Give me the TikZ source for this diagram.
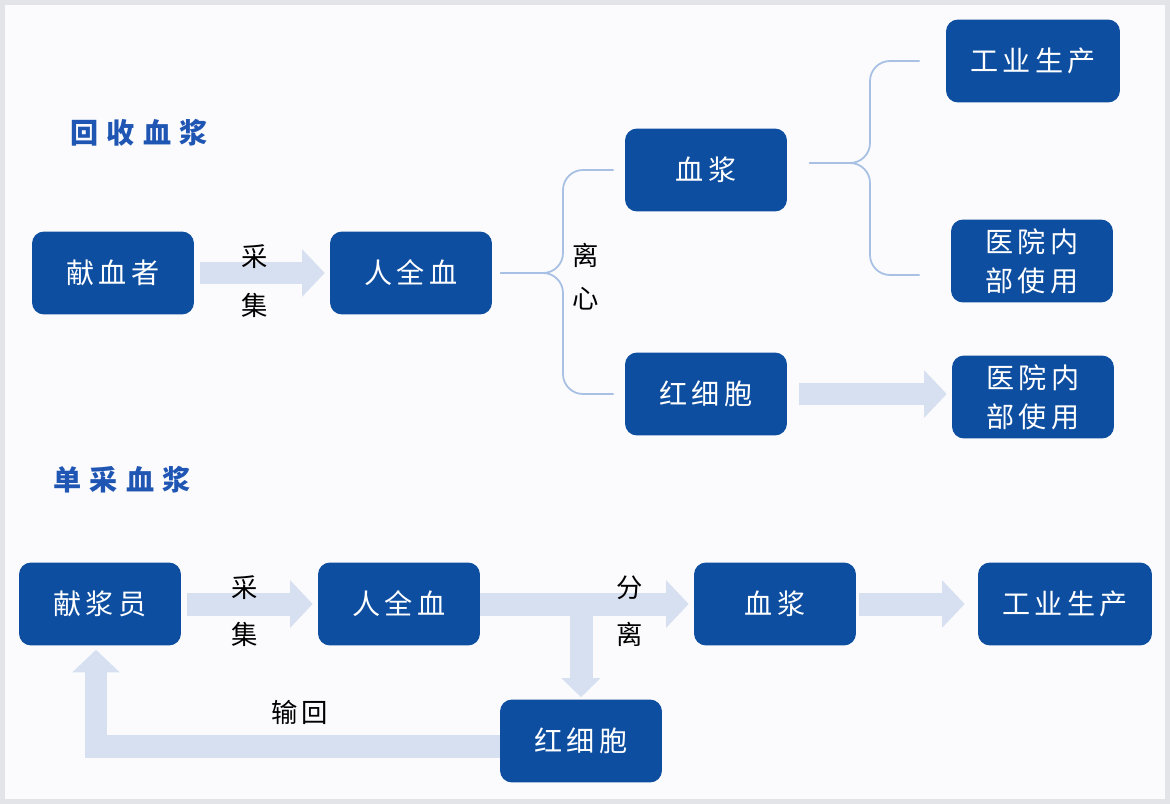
\documentclass[tikz,border=0pt]{standalone}
\usepackage{fontspec}
\newfontfamily\boxfont[LetterSpace=15]{Noto Sans CJK SC}
\newfontfamily\headfont[LetterSpace=30]{Noto Sans CJK SC}
\usetikzlibrary{arrows.meta, calc}

\begin{document}
\begin{tikzpicture}[x=0.02cm, y=-0.02cm]
    % Define colours
    \definecolor{boxColour}{HTML}{0D4EA0}
    \definecolor{arrowColour}{HTML}{D6E0F1}
    \definecolor{braceColour}{HTML}{A8C0E4}
    \definecolor{titleColour}{HTML}{1F55B3}
    \definecolor{pageColour}{HTML}{FBFBFD}
    \definecolor{edgeColour}{HTML}{E2E4E8}

    % Define styles
    \tikzset{
        box/.style={rectangle, rounded corners=0.24cm, fill=boxColour, text=white,
            minimum width=3.24cm, minimum height=1.66cm, align=center,
            font=\boxfont\fontsize{16}{22}\selectfont},
        widebox/.style={box, minimum width=3.48cm},
        fat/.style={draw=arrowColour, line width=0.46cm, line join=miter,
            -{Triangle[length=0.45cm, width=0.95cm, line width=0pt]},
            shorten <=0.12cm, shorten >=0.1cm},
        brace/.style={draw=braceColour, line width=1pt, rounded corners=0.4cm,
            shorten <=0.16cm, shorten >=0.22cm},
        title/.style={text=titleColour, font=\headfont\bfseries\fontsize{16}{20}\selectfont},
        tag/.style={text=black, font=\boxfont\fontsize{15}{20}\selectfont}
    }

    % Page
    \useasboundingbox (0,0) rectangle (1170,804);
    \fill[pageColour] (0,0) rectangle (1170,804);
    \draw[edgeColour, line width=0.2cm] (0,0) rectangle (1170,804);

    % Section titles
    \node[title] (titleA) at (139,133) {回收血浆};
    \node[title] (titleB) at (122,480) {单采血浆};

    % Upper flow: recovered plasma
    \node[box] (donorA) at (113,273) {献血者};
    \node[box] (bloodA) at (411,273) {人全血};
    \node[box] (plasmaA) at (706,170) {血浆};
    \node[box] (cellsA) at (706,394) {红细胞};
    \node[widebox] (industryA) at (1033,61) {工业生产};
    \node[box] (hospitalA) at (1032,261) {医院内\\部使用};
    \node[box] (hospitalB) at (1033,397) {医院内\\部使用};

    % Fork points of the braces
    \coordinate (forkA) at (563,273);
    \coordinate (forkB) at (870,163);

    % Upper connectors
    \draw[fat] (donorA) -- (bloodA);
    \draw[brace] (bloodA.east) -- (forkA) |- (plasmaA.west);
    \draw[brace] (bloodA.east) -- (forkA) |- (cellsA.west);
    \draw[brace, shorten <=0.44cm, shorten >=0.52cm] ($(plasmaA.east)+(0,-7)$) -- (forkB) |- (industryA.west);
    \draw[brace, shorten <=0.44cm, shorten >=0.62cm] ($(plasmaA.east)+(0,-7)$) -- (forkB) |- ($(hospitalA.west)+(0,14)$);
    \draw[fat, shorten <=0.24cm] (cellsA.east) -- (cellsA.east -| hospitalB.west);

    % Upper labels
    \node[tag] (collectA1) at (255,257) {采};
    \node[tag] (collectA2) at (255,305) {集};
    \node[tag] (spinA1) at (586,255) {离};
    \node[tag] (spinA2) at (586,299) {心};

    % Lower flow: single plasma collection
    \node[box] (donorB) at (100,604) {献浆员};
    \node[box] (bloodB) at (399,604) {人全血};
    \node[box] (plasmaB) at (775,604) {血浆};
    \node[widebox] (industryB) at (1065,604) {工业生产};
    \node[box] (cellsB) at (581,741) {红细胞};

    \coordinate (split) at (cellsB.north |- bloodB.east);

    % Lower connectors
    \draw[fat] (donorB) -- (bloodB);
    \draw[fat, shorten <=0cm] (bloodB) -- (plasmaB);
    \draw[fat, shorten <=0cm, shorten >=0.04cm,
        -{Triangle[length=0.38cm, width=0.78cm, line width=0pt]}] (split) -- (cellsB);
    \draw[fat, shorten <=0.06cm, shorten >=0.26cm] (plasmaB) -- (industryB);
    \draw[fat, shorten <=0cm, shorten >=0.08cm] ($(cellsB.west)+(0,5)$) -| ($(donorB.south)+(-4,0)$);

    % Lower labels
    \node[tag] (collectB1) at (245,588) {采};
    \node[tag] (collectB2) at (245,634) {集};
    \node[tag] (splitB1) at (630,588) {分};
    \node[tag] (splitB2) at (630,634) {离};
    \node[tag] (returnB) at (300,712) {输回};
\end{tikzpicture}
\end{document}
